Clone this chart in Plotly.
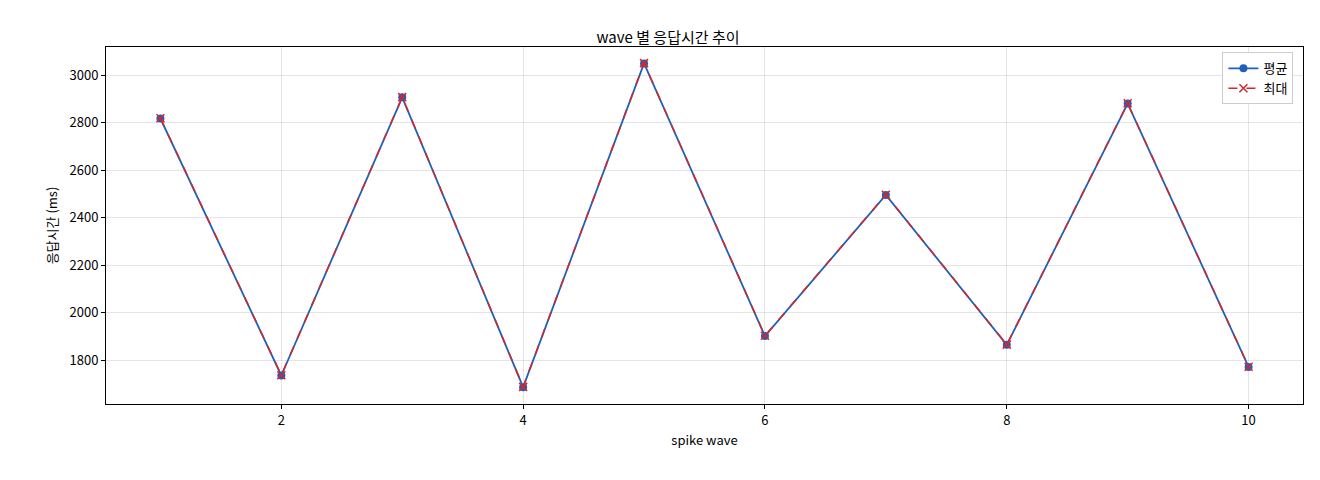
import plotly.graph_objects as go

waves = [1, 2, 3, 4, 5, 6, 7, 8, 9, 10]
avg_ms = [2817, 1735, 2906, 1686, 3049, 1901, 2495, 1864, 2880, 1771]
max_ms = [2818, 1736, 2907, 1687, 3050, 1902, 2496, 1865, 2881, 1772]

font = "Noto Sans CJK KR"

fig = go.Figure()
fig.add_trace(go.Scatter(x=waves, y=avg_ms, name="평균", mode="lines+markers",
                         line=dict(color="#1f5fbf", width=1.8),
                         marker=dict(symbol="circle", size=8, color="#1f5fbf")))
fig.add_trace(go.Scatter(x=waves, y=max_ms, name="최대", mode="lines+markers",
                         line=dict(color="#d62728", width=1.5, dash="dash"),
                         marker=dict(symbol="x-thin", size=8, color="#d62728",
                                     line=dict(color="#d62728", width=1.5))))

axis = dict(showline=True, linecolor="black", linewidth=1, mirror=True,
            ticks="outside", ticklen=4, tickcolor="black",
            showgrid=True, gridcolor="rgba(0,0,0,0.1)", zeroline=False,
            tickfont=dict(size=13, color="black"))
fig.update_xaxes(axis, range=[0.55, 10.45], tickvals=[2, 4, 6, 8, 10],
                 title=dict(text="spike wave", font=dict(size=13), standoff=8))
fig.update_yaxes(axis, range=[1615, 3118], tickvals=[1800, 2000, 2200, 2400, 2600, 2800, 3000],
                 title=dict(text="응답시간 (ms)", font=dict(size=13), standoff=8))
fig.update_layout(
    width=1320, height=480, template="none",
    paper_bgcolor="white", plot_bgcolor="white",
    font=dict(family=font, color="black"),
    margin=dict(l=98, r=25, t=39, b=84),
    title=dict(text="wave 별 응답시간 추이", x=0.5, xanchor="center", y=0.95, font=dict(size=15)),
    legend=dict(x=0.992, y=0.985, xanchor="right", yanchor="top",
                bgcolor="white", bordercolor="#cccccc", borderwidth=1, font=dict(size=13)),
)
fig.write_html("out.html")
